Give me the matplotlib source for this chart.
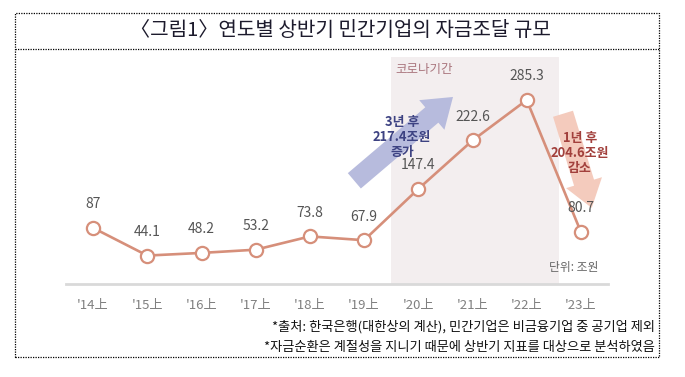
import matplotlib
matplotlib.use("Agg")
import matplotlib.pyplot as plt
from matplotlib.patches import Rectangle
from matplotlib.lines import Line2D

plt.rcParams['font.family'] = ['Noto Sans CJK KR', 'DejaVu Sans']

categories = ["'14上", "'15上", "'16上", "'17上", "'18上", "'19上", "'20上", "'21上", "'22上", "'23上"]
values = [87, 44.1, 48.2, 53.2, 73.8, 67.9, 147.4, 222.6, 285.3, 80.7]
labels = ["87", "44.1", "48.2", "53.2", "73.8", "67.9", "147.4", "222.6", "285.3", "80.7"]

W, H = 685, 377
fig = plt.figure(figsize=(W / 100, H / 100), dpi=100)
fig.patch.set_facecolor('white')

def fx(px):
    return px / W

def fy(py):
    return 1 - py / H

# outer dotted frame and title separator
frame = Rectangle((fx(15), fy(357)), fx(659) - fx(15), fy(13) - fy(357),
                  transform=fig.transFigure, fill=False, ec='black', lw=0.9, ls=(0, (1, 1)))
fig.add_artist(frame)
fig.add_artist(Line2D([fx(15), fx(659)], [fy(49), fy(49)], transform=fig.transFigure,
                      color='black', lw=0.9, ls=(0, (1, 1))))

fig.text(fx(340), fy(31), "〈그림1〉연도별 상반기 민간기업의 자금조달 규모", ha='center', va='center',
         fontsize=14.5, color='#1c1a2c')

ax = fig.add_axes([fx(66), fy(284), fx(608) - fx(66), fy(57) - fy(284)])
x = list(range(len(categories)))
ax.set_xlim(-0.5, 9.5)
ax.set_ylim(0, 352)

# covid shading
ax.axvspan(5.5, 8.6, color='#f3eeef', zorder=0, lw=0)
ax.text(5.58, 343, "코로나기간", ha='left', va='top', fontsize=9, color='#a9757d')

line_c = '#d68f7a'
ax.plot(x, values, color=line_c, lw=1.9, marker='o', ms=9.5, mfc='white', mec=line_c, mew=1.6,
        zorder=4, clip_on=False)
for xi, v, t in zip(x, values, labels):
    ax.annotate(t, (xi, v), xytext=(0, 17), textcoords='offset points', ha='center', va='center',
                fontsize=10, color='#555555', zorder=5)

# arrows
ax.annotate("", xy=(6.64, 290), xytext=(4.82, 160),
            arrowprops=dict(arrowstyle="simple,head_width=2.8,head_length=2.0,tail_width=1.45",
                            fc='#b7bbdd', ec='none', shrinkA=0, shrinkB=0, mutation_scale=10),
            zorder=3)
ax.text(5.7, 228, "3년 후\n217.4조원\n증가", ha='center', va='center', fontsize=9.3,
        fontweight='bold', color='#3d4282', linespacing=1.12, zorder=6)

ax.annotate("", xy=(9.2, 118), xytext=(8.67, 264),
            arrowprops=dict(arrowstyle="simple,head_width=2.7,head_length=1.9,tail_width=1.5",
                            fc='#f4cbbd', ec='none', shrinkA=0, shrinkB=0, mutation_scale=10),
            zorder=3)
ax.text(8.98, 203, "1년 후\n204.6조원\n감소", ha='center', va='center', fontsize=9.3,
        fontweight='bold', color='#a2403c', linespacing=1.12, zorder=6)

ax.text(9.32, 26, "단위: 조원", ha='right', va='center', fontsize=8.5, color='#666666')

for s in ['top', 'right', 'left']:
    ax.spines[s].set_visible(False)
ax.spines['bottom'].set_color('#d9d9d9')
ax.spines['bottom'].set_linewidth(2)
ax.set_yticks([])
ax.set_xticks(x)
ax.set_xticklabels(categories, fontsize=9.5, color='#808080')
ax.tick_params(axis='x', length=0, pad=11)
ax.patch.set_alpha(0)

fig.text(fx(655), fy(327), "*출처: 한국은행(대한상의 계산), 민간기업은 비금융기업 중 공기업 제외",
         ha='right', va='center', fontsize=9.5, color='#111111')
fig.text(fx(655), fy(347), "*자금순환은 계절성을 지니기 때문에 상반기 지표를 대상으로 분석하였음",
         ha='right', va='center', fontsize=9.5, color='#111111')

fig.savefig("out.png", dpi=100, facecolor='white')
